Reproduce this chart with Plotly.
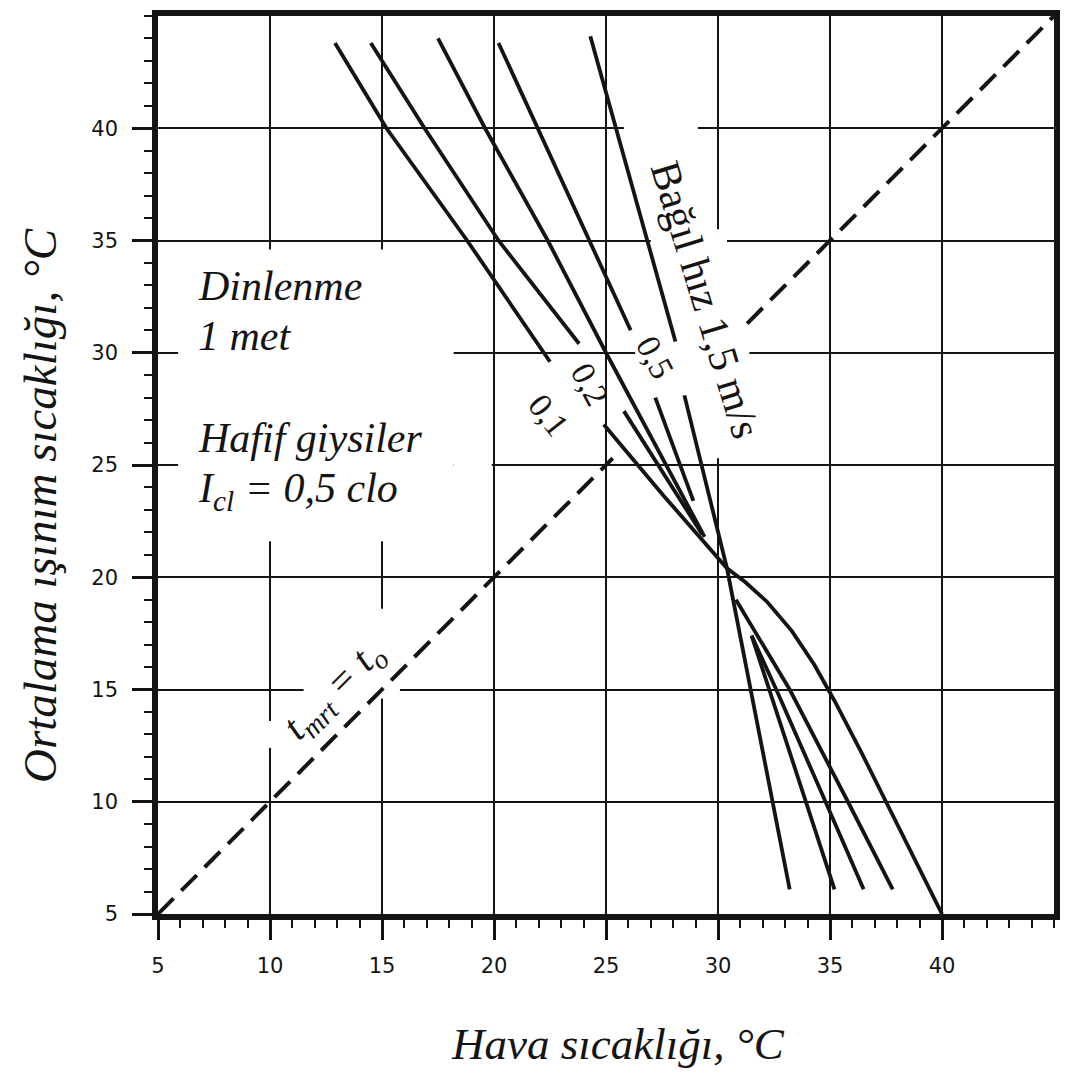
import plotly.graph_objects as go

# ---- data ----
tick_vals = [5, 10, 15, 20, 25, 30, 35, 40]
tick_text = ["5", "10", "15", "20", "25", "30", "35", "40"]

# comfort lines for relative air velocity (None = break in the drawn line)
v01_x = [12.9, 15.2, 18.8, 22.5, None, 24.9, 27.6, 30.4, 31.2, 32.2, 33.3, 34.3, 35.2, 36.4, 37.6, 40.0]
v01_y = [43.8, 40.0, 35.0, 29.6, None, 26.8, 23.6, 20.4, 19.8, 18.9, 17.6, 16.1, 14.5, 12.2, 9.8, 5.0]

v02_x = [14.5, 16.9, 20.2, 23.8, None, 25.8, 29.3, None, 30.8, 33.2, 35.8, 37.8]
v02_y = [43.8, 40.0, 35.0, 30.4, None, 27.4, 21.9, None, 19.0, 15.0, 10.0, 6.1]

v05_x = [17.5, 19.6, 22.4, 25.0, 29.4, None, 31.5, 32.6, 34.8, 36.5]
v05_y = [44.0, 40.0, 35.0, 30.0, 21.8, None, 17.4, 15.0, 10.0, 6.1]

v10_x = [20.2, 26.1, None, 27.2, 28.9, None, 31.5, 35.2]
v10_y = [43.8, 31.0, None, 28.0, 23.4, None, 17.4, 6.1]

v15_x = [24.3, 28.1, None, 28.5, 30.4, 33.2]
v15_y = [44.1, 30.5, None, 28.1, 20.4, 6.1]

# t_mrt = t_o reference line
diag_x = [5, 25.3, None, 31.3, 45]
diag_y = [5, 25.3, None, 31.3, 45]

# white areas where the printed grid is interrupted around the labels
gap_x0 = [5.9, 18.2, 25.8, 27.0, 29.6, 26.3, 11.5, 14.6, 9.6]
gap_x1 = [18.2, 19.9, 29.1, 30.4, 30.4, 31.4, 15.8, 15.4, 10.4]
gap_y0 = [21.6, 24.5, 39.5, 34.5, 25.3, 29.5, 14.6, 15.1, 12.4]
gap_y1 = [34.6, 25.5, 40.5, 35.5, 35.0, 30.5, 15.4, 18.6, 13.6]

INK = "#141414"
SERIF = "Liberation Serif"

fig = go.Figure()

for name, xs, ys in [("0,1 m/s", v01_x, v01_y), ("0,2 m/s", v02_x, v02_y),
                     ("0,5 m/s", v05_x, v05_y), ("1,0 m/s", v10_x, v10_y),
                     ("1,5 m/s", v15_x, v15_y)]:
    fig.add_trace(go.Scatter(x=xs, y=ys, mode="lines", name=name,
                             line=dict(color=INK, width=3.8),
                             connectgaps=False, showlegend=False, hoverinfo="skip"))

fig.add_trace(go.Scatter(x=diag_x, y=diag_y, mode="lines", name="t_mrt = t_o",
                         line=dict(color=INK, width=4, dash="22px,11px"),
                         connectgaps=False, showlegend=False, hoverinfo="skip"))

for x0, x1, y0, y1 in zip(gap_x0, gap_x1, gap_y0, gap_y1):
    fig.add_shape(type="rect", xref="x", yref="y", x0=x0, x1=x1, y0=y0, y1=y1,
                  fillcolor="white", line=dict(width=0), layer="between")

ann = [
    dict(x=6.7, y=31.86, text="<i>Dinlenme</i>", ya="bottom", size=42, angle=0),
    dict(x=6.7, y=31.86, text="<i>1 met</i>", ya="top", size=42, angle=0),
    dict(x=6.7, y=25.1, text="<i>Hafif giysiler</i>", ya="bottom", size=42, angle=0),
    dict(x=6.7, y=25.1, text="<i>I<sub>cl</sub> = 0,5 clo</i>", ya="top", size=42, angle=0),
]
for a in ann:
    fig.add_annotation(x=a["x"], y=a["y"], xref="x", yref="y", text=a["text"],
                       showarrow=False, xanchor="left", yanchor=a["ya"],
                       textangle=a["angle"], font=dict(family=SERIF, size=a["size"], color=INK))

labels = [
    dict(x=29.45, y=32.35, text="Bağıl hız 1,5 m/s", size=42, angle=73),
    dict(x=22.45, y=27.2, text="0,1", size=34, angle=52),
    dict(x=24.3, y=28.6, text="0,2", size=34, angle=62),
    dict(x=27.2, y=29.8, text="0,5", size=34, angle=62),
    dict(x=12.85, y=14.95, text="<i>t<sub>mrt</sub> = t<sub>o</sub></i>", size=40, angle=-45),
]
for a in labels:
    fig.add_annotation(x=a["x"], y=a["y"], xref="x", yref="y", text=a["text"],
                       showarrow=False, xanchor="center", yanchor="middle",
                       textangle=a["angle"], font=dict(family=SERIF, size=a["size"], color=INK))

# axis titles
fig.add_annotation(x=0.513, y=-0.145, xref="paper", yref="paper",
                   text="<i>Hava sıcaklığı, °C</i>", showarrow=False,
                   xanchor="center", yanchor="middle",
                   font=dict(family=SERIF, size=45, color=INK))
fig.add_annotation(x=-0.131, y=0.455, xref="paper", yref="paper",
                   text="<i>Ortalama ışınım sıcaklığı, °C</i>", showarrow=False,
                   xanchor="center", yanchor="middle", textangle=-90,
                   font=dict(family=SERIF, size=47, color=INK))

axis_common = dict(
    range=[5, 45], tickmode="array", tickvals=tick_vals, ticktext=tick_text,
    showgrid=True, gridcolor=INK, gridwidth=2.4,
    ticks="outside", ticklen=20, tickwidth=2.8, tickcolor=INK,
    showline=True, linewidth=5.5, linecolor=INK, mirror=True,
    zeroline=False, fixedrange=True,
    tickfont=dict(family="DejaVu Sans", size=21, color=INK),
    minor=dict(tickmode="linear", tick0=5, dtick=1, ticks="outside", ticklen=8,
               tickwidth=2.4, tickcolor=INK, showgrid=False),
)
fig.update_xaxes(**axis_common, ticklabelstandoff=8)
fig.update_yaxes(**axis_common, ticklabelstandoff=10)

fig.update_layout(
    width=1070, height=1075,
    margin=dict(l=158, r=11, t=10, b=161),
    paper_bgcolor="white", plot_bgcolor="white",
    showlegend=False,
)

fig.write_html("out.html")
